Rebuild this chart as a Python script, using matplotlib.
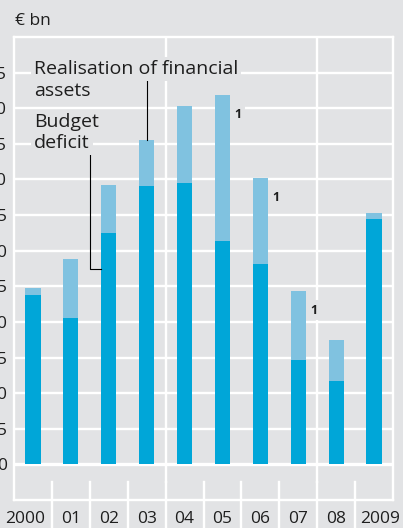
import matplotlib.pyplot as plt
import numpy as np

# values in EUR bn
years = ["2000", "01", "02", "03", "04", "05", "06", "07", "08", "2009"]
deficit = [23.8, 20.6, 32.5, 39.1, 39.5, 31.4, 28.1, 14.6, 11.7, 34.4]
total = [24.8, 28.9, 39.2, 45.5, 50.3, 51.9, 40.2, 24.4, 17.5, 35.3]
footnoted = ["05", "06", "07"]
yticks = list(range(0, 60, 5))

bg = "#e2e3e5"
dark = "#00a6d8"
light = "#80c2e0"
txt = "#1e1e1e"

plt.rcParams["font.family"] = ["Open Sans", "DejaVu Sans"]

fig = plt.figure(figsize=(4.03, 5.28), dpi=100, facecolor=bg)
ax = fig.add_axes([14 / 403, 1 - 500 / 528, 379 / 403, 463 / 528], facecolor=bg)

x = np.arange(len(years))
realisation = np.array(total) - np.array(deficit)
w = 0.4
ax.bar(x, deficit, width=w, color=dark, zorder=3)
ax.bar(x, realisation, bottom=deficit, width=w, color=light, zorder=3)

ax.set_xlim(-0.5, 9.5)
ax.set_ylim(-5, 60)

# grid
for v in yticks:
    ax.axhline(v, color="white", lw=2.4 if v == 0 else 1.7, zorder=1)
for b in (3.5, 7.5):
    ax.plot([b, b], [-2.5, 60], color="white", lw=1.7, zorder=1)
for b in np.arange(0.5, 9.5, 1.0):
    ax.plot([b, b], [-9.5, -2.5], color="white", lw=1.7, zorder=1, clip_on=False)

for s in ax.spines.values():
    s.set_color("white")
    s.set_linewidth(1.7)

ax.set_xticks([])
ax.set_yticks(yticks)
ax.set_yticklabels([str(v) for v in yticks], fontsize=12.5, color=txt)
ax.tick_params(axis="y", length=0, pad=5)

# year labels
for i, lab in enumerate(years):
    xi = i
    if i == 0:
        xi = i - 0.21
    elif i == len(years) - 1:
        xi = i + 0.17
    ax.text(xi, -7.6, lab, ha="center", va="center", fontsize=12.5,
            color=txt, clip_on=False)

fig.text(15 / 403, 1 - 25 / 528, "€ bn", fontsize=12.5, color=txt,
         va="baseline", ha="left")

# footnote marks
for i, lab in enumerate(years):
    if lab in footnoted:
        ax.annotate("1", (i + w / 2, total[i]), xytext=(3, -14),
                    textcoords="offset points", fontsize=9, fontweight="bold",
                    color=txt, ha="left", va="center", zorder=4,
                    bbox=dict(boxstyle="square,pad=0.3", fc=bg, ec="none"))

# labels with leader lines
box = dict(boxstyle="square,pad=0.15", fc=bg, ec="none")
for s, yy in [("Realisation of financial", 54.8), ("assets", 51.7),
              ("Budget", 47.4), ("deficit", 44.4)]:
    ax.text(0.03, yy, s, fontsize=14, color=txt, va="baseline", ha="left",
            bbox=box, zorder=5)

ax.plot([3, 3], [total[3], 54.0], color="black", lw=0.8, zorder=4)
ax.plot([1.51, 1.51, 2 - w / 2], [44.0, 27.5, 27.5], color="black", lw=0.8, zorder=4)

fig.savefig("out.png", dpi=100, facecolor=bg)
